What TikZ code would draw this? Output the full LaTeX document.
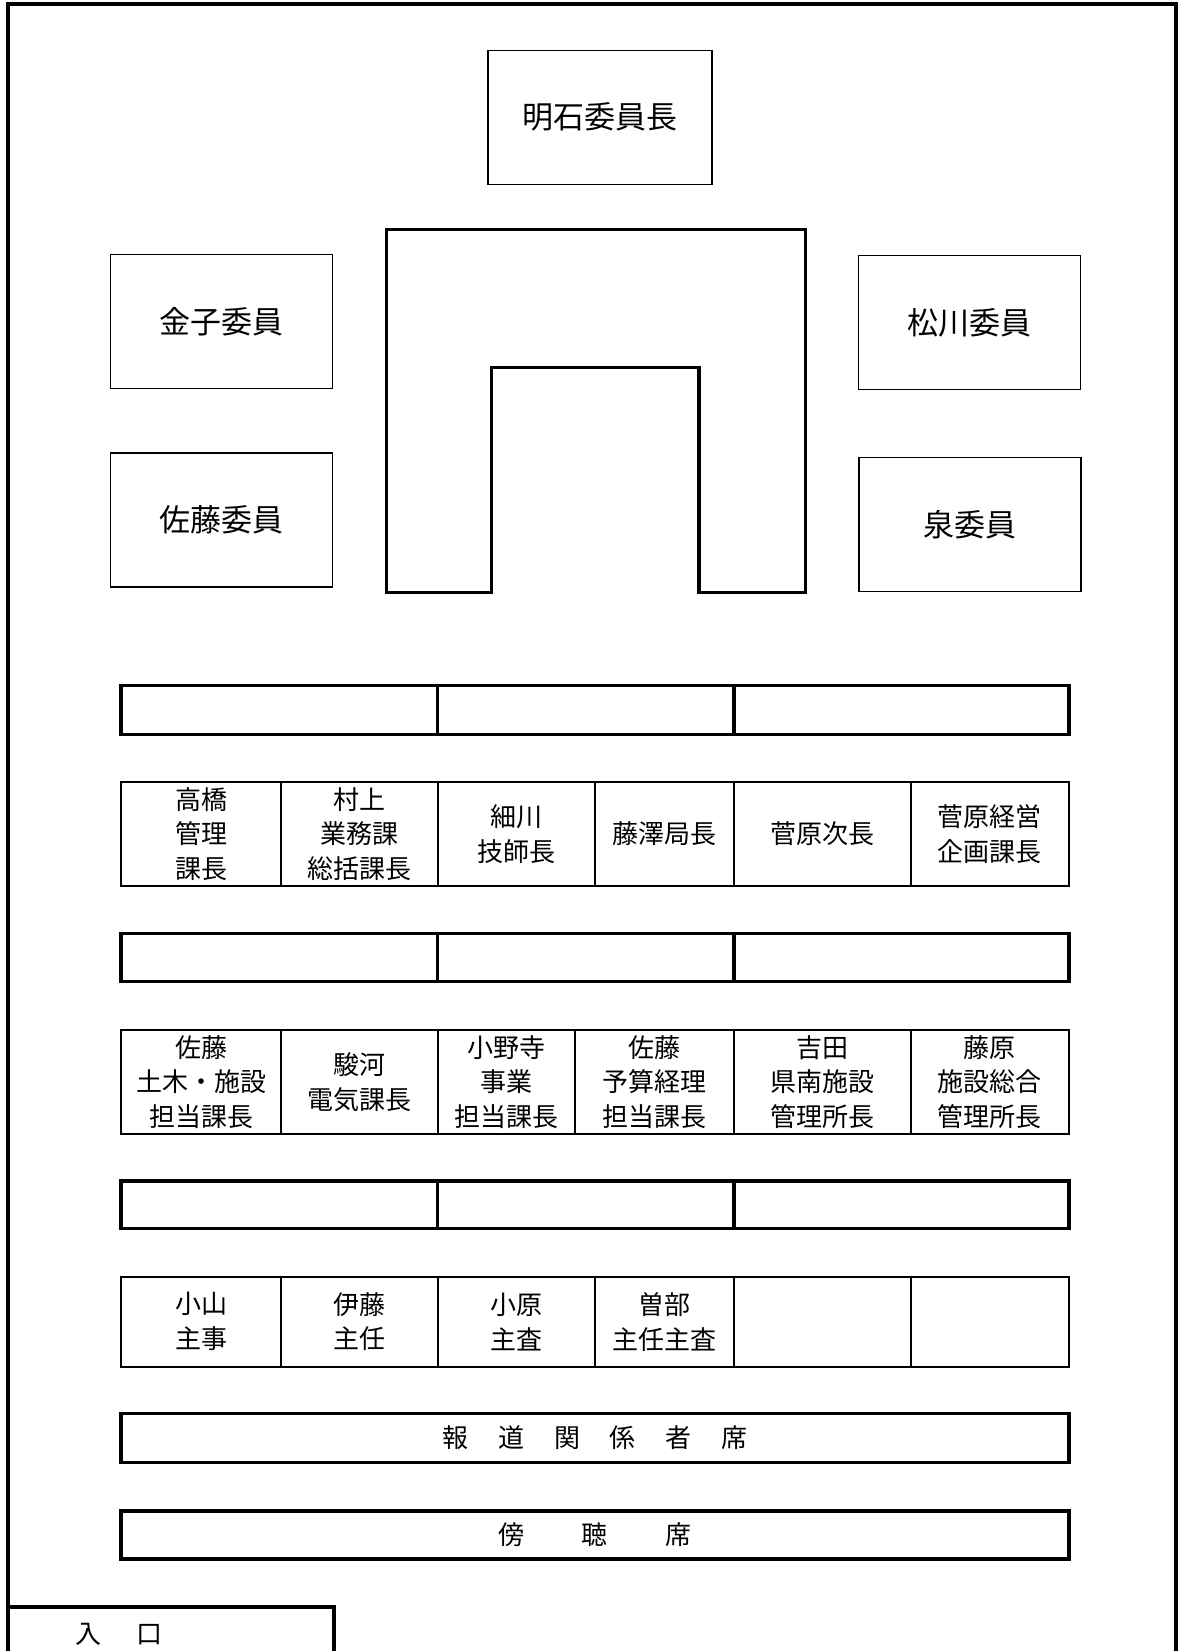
\documentclass[tikz,border=0pt]{standalone}
\usepackage{fontspec}
\setmainfont{Noto Sans CJK JP}
\usepackage{tikz}
\usetikzlibrary{positioning}

\begin{document}
\begin{tikzpicture}[x=0.5pt,y=-0.5pt,
    spesso/.style={line width=1.7pt, line join=miter},
    medio/.style={line width=1pt},
    membro/.style={draw, line width=0.6pt, minimum width=111pt, minimum height=67pt,
                   font=\fontsize{15.5}{18}\selectfont},
    nome/.style={align=center, inner sep=0pt, font=\fontsize{13}{17.4}\selectfont}]
    % Disegna la cornice della sala
    \useasboundingbox (0,0) rectangle (1180,1651);
    \draw[spesso] (8,1651) -- (8,4) -- (1176,4) -- (1176,1651);
    % Tavolo a U al centro
    \draw[line width=1.8pt, line join=miter] (491.6,592.6) -- (386.3,592.6) -- (386.3,229.5)
        -- (805.3,229.5) -- (805.3,592.6) -- (698.9,592.6) -- (698.9,367.4) -- (491.6,367.4) -- cycle;
    % Posti dei membri del comitato
    \node[membro, minimum width=112pt] (akashi) at (600,117.3) {明石委員長};
    \node[membro] (kaneko) at (221.5,321.5) {金子委員};
    \node[membro] (satoiin) at (221.5,520) {佐藤委員};
    \node[membro] (matsukawa) at (969.5,322.6) {松川委員};
    \node[membro] (izumi) at (970,524.2) {泉委員};
    % Prima fila di tavoli (vuota)
    \draw[spesso] (121,685.5) rectangle (1069,734.5);
    \draw[spesso] (437.5,685.5) -- (437.5,734.5);
    \draw[spesso] (734,685.5) -- (734,734.5);
    % Seconda fila: dirigenti
    \draw[medio] (121,782.3) rectangle (1069,886);
    \draw[medio] (281,782.3) -- (281,886);
    \draw[medio] (437.5,782.3) -- (437.5,886);
    \draw[medio] (594.5,782.3) -- (594.5,886);
    \draw[medio] (734,782.3) -- (734,886);
    \draw[medio] (910.5,782.3) -- (910.5,886);
    \node[nome] (takahashi) at (201,834) {高橋\\管理\\課長};
    \node[nome] (murakami) at (359.3,834) {村上\\業務課\\総括課長};
    \node[nome] (hosokawa) at (516,834) {細川\\技師長};
    \node[nome] (fujisawa) at (664.3,834) {藤澤局長};
    \node[nome] (sugawara) at (822.3,834) {菅原次長};
    \node[nome] (sugawarakeiei) at (989.8,834) {菅原経営\\企画課長};
    % Terza fila di tavoli (vuota)
    \draw[spesso] (121,933.5) rectangle (1069,981.5);
    \draw[spesso] (437.5,933.5) -- (437.5,981.5);
    \draw[spesso] (734,933.5) -- (734,981.5);
    % Quarta fila: responsabili
    \draw[medio] (121,1030) rectangle (1069,1134);
    \draw[medio] (281,1030) -- (281,1134);
    \draw[medio] (437.5,1030) -- (437.5,1134);
    \draw[medio] (575,1030) -- (575,1134);
    \draw[medio] (734,1030) -- (734,1134);
    \draw[medio] (910.5,1030) -- (910.5,1134);
    \node[nome] (satodoboku) at (201,1082) {佐藤\\土木・施設\\担当課長};
    \node[nome] (suruga) at (359.3,1082) {駿河\\電気課長};
    \node[nome] (onodera) at (506.3,1082) {小野寺\\事業\\担当課長};
    \node[nome] (satoyosan) at (654.5,1082) {佐藤\\予算経理\\担当課長};
    \node[nome] (yoshida) at (822.3,1082) {吉田\\県南施設\\管理所長};
    \node[nome] (fujiwara) at (989.8,1082) {藤原\\施設総合\\管理所長};
    % Quinta fila di tavoli (vuota)
    \draw[spesso] (121,1181) rectangle (1069,1228.5);
    \draw[spesso] (437.5,1181) -- (437.5,1228.5);
    \draw[spesso] (734,1181) -- (734,1228.5);
    % Sesta fila: personale
    \draw[medio] (121,1276.5) rectangle (1069,1367);
    \draw[medio] (281,1276.5) -- (281,1367);
    \draw[medio] (437.5,1276.5) -- (437.5,1367);
    \draw[medio] (594.5,1276.5) -- (594.5,1367);
    \draw[medio] (734,1276.5) -- (734,1367);
    \draw[medio] (910.5,1276.5) -- (910.5,1367);
    \node[nome] (koyama) at (201,1321.7) {小山\\主事};
    \node[nome] (ito) at (359.3,1321.7) {伊藤\\主任};
    \node[nome] (ohara) at (516,1321.7) {小原\\主査};
    \node[nome] (sobe) at (664.3,1321.7) {曽部\\主任主査};
    % Posti per stampa e pubblico
    \draw[spesso] (121,1413.5) rectangle (1069,1462.5);
    \node[nome] (stampa) at (595,1438) {報\hspace{1.15em}道\hspace{1.15em}関\hspace{1.15em}係\hspace{1.15em}者\hspace{1.15em}席};
    \draw[spesso] (121,1511) rectangle (1069,1559);
    \node[nome] (pubblico) at (595,1535) {傍\hspace{2.2em}聴\hspace{2.2em}席};
    % Ingresso
    \draw[spesso] (8,1607) -- (334,1607) -- (334,1651);
    \node[nome] (ingresso) at (119,1634) {入\hspace{1.35em}口};
\end{tikzpicture}
\end{document}
